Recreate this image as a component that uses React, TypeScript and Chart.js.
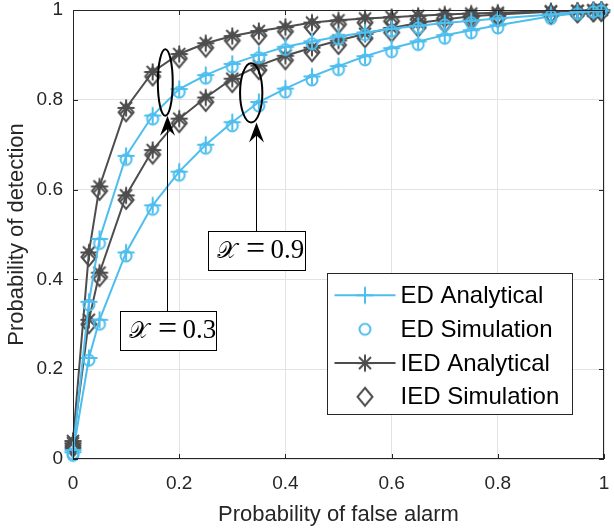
import { useEffect, useRef } from "react";
import { Chart, registerables } from "chart.js";

Chart.register(...registerables);

// ---------------- data ----------------
const pfa = [0, 0.03, 0.05, 0.1, 0.15, 0.2, 0.25, 0.3, 0.35, 0.4, 0.45, 0.5, 0.55, 0.6, 0.65, 0.7, 0.75, 0.8, 0.9, 0.95, 0.98, 0.995];

const edAnalytical03 = [0.02, 0.35, 0.49, 0.675, 0.765, 0.824, 0.855, 0.88, 0.9, 0.918, 0.93, 0.941, 0.95, 0.958, 0.965, 0.971, 0.976, 0.981, 0.99, 0.995, 0.998, 0.999];
const edSimulation03 = [0.012, 0.343, 0.48, 0.667, 0.757, 0.817, 0.848, 0.873, 0.894, 0.912, 0.925, 0.935, 0.945, 0.953, 0.96, 0.967, 0.972, 0.977, 0.987, 0.992, 0.996, 0.998];
const iedAnalytical03 = [0.04, 0.46, 0.607, 0.782, 0.862, 0.902, 0.926, 0.942, 0.953, 0.962, 0.972, 0.977, 0.981, 0.984, 0.987, 0.99, 0.992, 0.994, 0.997, 0.998, 0.999, 1];
const iedSimulation03 = [0.03, 0.45, 0.597, 0.772, 0.852, 0.892, 0.916, 0.932, 0.943, 0.952, 0.962, 0.968, 0.972, 0.975, 0.979, 0.982, 0.985, 0.987, 0.991, 0.993, 0.995, 0.996];

const edAnalytical09 = [0.015, 0.225, 0.31, 0.46, 0.565, 0.64, 0.7, 0.75, 0.795, 0.825, 0.852, 0.875, 0.897, 0.915, 0.93, 0.944, 0.955, 0.966, 0.986, 0.993, 0.997, 0.999];
const edSimulation09 = [0.008, 0.22, 0.3, 0.452, 0.556, 0.632, 0.692, 0.742, 0.786, 0.817, 0.844, 0.867, 0.889, 0.907, 0.923, 0.937, 0.949, 0.96, 0.981, 0.99, 0.995, 0.998];
const iedAnalytical09 = [0.035, 0.31, 0.415, 0.587, 0.688, 0.758, 0.805, 0.847, 0.876, 0.898, 0.916, 0.932, 0.947, 0.96, 0.971, 0.979, 0.986, 0.99, 0.996, 0.998, 0.999, 1];
const iedSimulation09 = [0.025, 0.3, 0.405, 0.577, 0.678, 0.748, 0.795, 0.837, 0.866, 0.888, 0.906, 0.922, 0.937, 0.95, 0.961, 0.97, 0.977, 0.982, 0.99, 0.993, 0.995, 0.996];

const seriesLabels = ["ED Analytical", "ED Simulation", "IED Analytical", "IED Simulation"];
const xTitle = "Probability of false alarm";
const yTitle = "Probability of detection";
const annotationSymbol = "\u{1D4B3}";

// annotation (data coordinates)
const annotations = [
  { value: "0.3", ex: 0.1738, ey: 0.8384, erx: 0.014, ery: 0.074, ax: 0.1766, tip: 0.7644, bx0: 0.088, bx1: 0.2702, by0: 0.2438, by1: 0.3296 },
  { value: "0.9", ex: 0.3356, ey: 0.8156, erx: 0.021, ery: 0.066, ax: 0.344, tip: 0.7496, bx0: 0.2534, bx1: 0.4376, by0: 0.4216, by1: 0.5073 },
];

// ---------------- styles ----------------
const BLUE = "#4DBEEE";
const GRAY = "#4D4D4D";
const AXIS = "#262626";
const GRID = "#e3e3e3";
const SANS = "'Liberation Sans', Arial, Helvetica, sans-serif";

function makeMarker(kind: string): HTMLCanvasElement {
  const c = document.createElement("canvas");
  c.width = 22;
  c.height = 22;
  const g = c.getContext("2d")!;
  g.translate(11, 11);
  g.lineWidth = 2;
  g.lineCap = "butt";
  g.beginPath();
  if (kind === "cross") {
    g.strokeStyle = BLUE;
    g.moveTo(0, -8.5); g.lineTo(0, 8.5);
    g.moveTo(-8.5, 0); g.lineTo(8.5, 0);
  } else if (kind === "circle") {
    g.strokeStyle = BLUE;
    g.arc(0, 0, 5.5, 0, Math.PI * 2);
  } else if (kind === "star") {
    g.strokeStyle = GRAY;
    const r = 8.5;
    for (let i = 0; i < 4; i++) {
      const a = (i * Math.PI) / 4;
      g.moveTo(-r * Math.cos(a), -r * Math.sin(a));
      g.lineTo(r * Math.cos(a), r * Math.sin(a));
    }
  } else {
    g.strokeStyle = GRAY;
    g.moveTo(0, -9); g.lineTo(7.5, 0); g.lineTo(0, 9); g.lineTo(-7.5, 0); g.closePath();
  }
  g.stroke();
  return c;
}

function pts(ys: number[]) {
  return pfa.map((x, i) => ({ x, y: ys[i] }));
}

const framePlugin = {
  id: "matlabFrame",
  afterDatasetsDraw(chart: any) {
    const { ctx, chartArea: a, scales } = chart;
    const xs = scales.x, ys = scales.y;
    ctx.save();
    // box
    ctx.strokeStyle = AXIS;
    ctx.lineWidth = 1;
    ctx.strokeRect(Math.round(a.left) + 0.5, Math.round(a.top) + 0.5, Math.round(a.right - a.left) - 1, Math.round(a.bottom - a.top) - 1);
    // inward ticks
    ctx.beginPath();
    const tl = 5;
    xs.ticks.forEach((t: any) => {
      const px = Math.round(xs.getPixelForValue(t.value)) + 0.5;
      ctx.moveTo(px, a.bottom); ctx.lineTo(px, a.bottom - tl);
      ctx.moveTo(px, a.top); ctx.lineTo(px, a.top + tl);
    });
    ys.ticks.forEach((t: any) => {
      const py = Math.round(ys.getPixelForValue(t.value)) + 0.5;
      ctx.moveTo(a.left, py); ctx.lineTo(a.left + tl, py);
      ctx.moveTo(a.right, py); ctx.lineTo(a.right - tl, py);
    });
    ctx.stroke();

    // annotations
    annotations.forEach((an) => {
      const cx = xs.getPixelForValue(an.ex), cy = ys.getPixelForValue(an.ey);
      const rx = Math.abs(xs.getPixelForValue(an.ex + an.erx) - cx);
      const ry = Math.abs(ys.getPixelForValue(an.ey + an.ery) - cy);
      ctx.strokeStyle = "#000";
      ctx.lineWidth = 2;
      ctx.beginPath();
      ctx.ellipse(cx, cy, rx, ry, 0, 0, Math.PI * 2);
      ctx.stroke();

      const ax = Math.round(xs.getPixelForValue(an.ax)) + 0.5;
      const tipY = ys.getPixelForValue(an.tip);
      const bTop = Math.round(ys.getPixelForValue(an.by1)) + 0.5;
      const bBot = Math.round(ys.getPixelForValue(an.by0)) + 0.5;
      const bL = Math.round(xs.getPixelForValue(an.bx0)) + 0.5;
      const bR = Math.round(xs.getPixelForValue(an.bx1)) + 0.5;
      ctx.lineWidth = 1;
      ctx.beginPath();
      ctx.moveTo(ax, bTop);
      ctx.lineTo(ax, tipY + 12);
      ctx.stroke();
      ctx.fillStyle = "#000";
      ctx.beginPath();
      ctx.moveTo(ax, tipY);
      ctx.lineTo(ax + 7.5, tipY + 20);
      ctx.lineTo(ax, tipY + 13);
      ctx.lineTo(ax - 7.5, tipY + 20);
      ctx.closePath();
      ctx.fill();

      ctx.fillStyle = "#fff";
      ctx.fillRect(bL, bTop, bR - bL, bBot - bTop);
      ctx.strokeStyle = "#000";
      ctx.strokeRect(bL, bTop, bR - bL, bBot - bTop);
      ctx.fillStyle = "#000";
      ctx.textBaseline = "alphabetic";
      const base = (bTop + bBot) / 2 + 7;
      ctx.textAlign = "left";
      ctx.font = "23px 'DejaVu Serif', 'DejaVu Sans', serif";
      ctx.fillText(annotationSymbol, bL + 8, base);
      ctx.textAlign = "center";
      ctx.font = "34px 'Liberation Serif', serif";
      ctx.fillText("=", bL + 47, base + 1);
      ctx.textAlign = "left";
      ctx.font = "27px 'Liberation Serif', serif";
      ctx.fillText(an.value, bL + 62, base);
    });

    // legend
    const lw = 245, lh = 141;
    const lx = Math.round(a.right - 277) + 0.5;
    const ly = Math.round(a.top + 263) + 0.5;
    ctx.fillStyle = "#fff";
    ctx.fillRect(lx, ly, lw, lh);
    ctx.strokeStyle = AXIS;
    ctx.lineWidth = 1;
    ctx.strokeRect(lx, ly, lw, lh);
    const rows = [21.8, 55.8, 89.6, 123.3];
    ctx.font = "24px " + SANS;
    ctx.textAlign = "left";
    ctx.textBaseline = "middle";
    for (let i = 0; i < 4; i++) {
      const ds = chart.data.datasets[i];
      const yy = ly + rows[i];
      if (ds.showLine) {
        ctx.strokeStyle = ds.borderColor;
        ctx.lineWidth = ds.borderWidth;
        ctx.beginPath();
        ctx.moveTo(lx + 7, yy);
        ctx.lineTo(lx + 68, yy);
        ctx.stroke();
      }
      const img = ds.pointStyle as HTMLCanvasElement;
      ctx.drawImage(img, lx + 37.5 - img.width / 2, yy - img.height / 2);
      ctx.fillStyle = "#000";
      ctx.fillText(ds.label, lx + 73, yy + 1);
    }
    ctx.restore();
  },
};

const fmt = (v: any) => String(Math.round(Number(v) * 100) / 100);

export default function App() {
  const ref = useRef<HTMLCanvasElement | null>(null);
  useEffect(() => {
    document.body.style.margin = "0";
    const markers = {
      cross: makeMarker("cross"),
      circle: makeMarker("circle"),
      star: makeMarker("star"),
      diamond: makeMarker("diamond"),
    };
    const mk = (label: string, ys: number[], kind: "cross" | "circle" | "star" | "diamond", line: boolean, color: string) => ({
      label,
      data: pts(ys),
      showLine: line,
      borderColor: color,
      backgroundColor: color,
      borderWidth: 2,
      pointStyle: markers[kind],
      pointRadius: 8,
      tension: 0,
      clip: false as any,
    });
    const chart = new Chart(ref.current!, {
      type: "scatter",
      data: {
        datasets: [
          mk(seriesLabels[0], edAnalytical03, "cross", true, BLUE),
          mk(seriesLabels[1], edSimulation03, "circle", false, BLUE),
          mk(seriesLabels[2], iedAnalytical03, "star", true, GRAY),
          mk(seriesLabels[3], iedSimulation03, "diamond", false, GRAY),
          mk(seriesLabels[0], edAnalytical09, "cross", true, BLUE),
          mk(seriesLabels[1], edSimulation09, "circle", false, BLUE),
          mk(seriesLabels[2], iedAnalytical09, "star", true, GRAY),
          mk(seriesLabels[3], iedSimulation09, "diamond", false, GRAY),
        ],
      },
      options: {
        responsive: false,
        animation: false,
        events: [],
        layout: { padding: { left: 0, top: 9, right: 7, bottom: 0 } },
        plugins: { legend: { display: false }, tooltip: { enabled: false } },
        scales: {
          x: {
            type: "linear",
            min: 0,
            max: 1,
            ticks: { stepSize: 0.2, padding: 13, color: AXIS, font: { family: SANS, size: 19 }, callback: fmt },
            grid: { color: GRID, drawTicks: false },
            border: { display: false },
            title: { display: true, text: xTitle, color: AXIS, font: { family: SANS, size: 22 }, padding: { top: 0, bottom: 1 } },
            afterFit: (s: any) => { s.height = 70; s.paddingLeft = 0; s.paddingRight = 0; s.paddingTop = 0; s.paddingBottom = 0; },
          },
          y: {
            type: "linear",
            min: 0,
            max: 1,
            ticks: { stepSize: 0.2, padding: 10, color: AXIS, font: { family: SANS, size: 19 }, callback: fmt },
            grid: { color: GRID, drawTicks: false },
            border: { display: false },
            title: { display: true, text: yTitle, color: AXIS, font: { family: SANS, size: 22 }, padding: { top: 4, bottom: 0 } },
            afterFit: (s: any) => { s.width = 73; s.paddingLeft = 0; s.paddingRight = 0; s.paddingTop = 0; s.paddingBottom = 0; },
          },
        },
      },
      plugins: [framePlugin],
    });
    return () => chart.destroy();
  }, []);
  return <canvas ref={ref} width={614} height={529} style={{ display: "block" }} />;
}
